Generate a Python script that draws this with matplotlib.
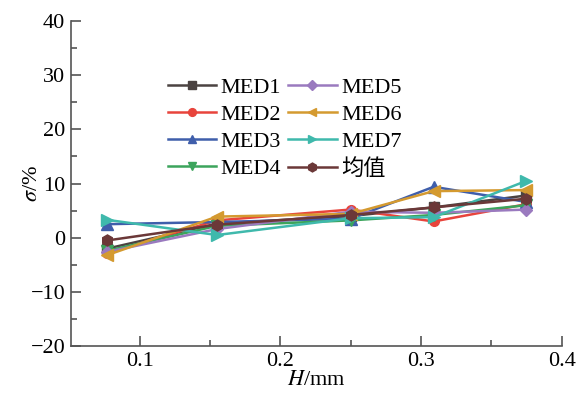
import numpy as np
from matplotlib import pyplot as plt
from matplotlib.ticker import MultipleLocator

plt.rcParams["font.family"] = ["Liberation Serif", "Noto Sans CJK SC"]
plt.rcParams["mathtext.fontset"] = "stix"

# data
h_mm = [0.077, 0.155, 0.25, 0.309, 0.375]
labels = ["MED1", "MED2", "MED3", "MED4", "MED5", "MED6", "MED7", "均值"]
med1 = [-2.0, 2.6, 4.0, 5.6, 7.8]
med2 = [-2.8, 3.2, 5.2, 3.0, 6.2]
med3 = [2.5, 2.9, 3.5, 9.4, 6.6]
med4 = [-2.4, 2.2, 3.2, 4.2, 6.0]
med5 = [-2.6, 1.6, 4.8, 4.6, 5.2]
med6 = [-3.2, 3.9, 4.4, 8.6, 8.8]
med7 = [3.3, 0.5, 3.6, 3.8, 10.5]
mean = [-0.5, 2.4, 4.2, 5.6, 7.2]

series = [med1, med2, med3, med4, med5, med6, med7, mean]
colors = ["#4b4341", "#e8443c", "#3f5eab", "#3ca45c", "#9a7abf", "#d49a30", "#3fb9ac", "#6b3838"]
markers = ["s", "o", "^", "v", "D", "<", ">", "h"]
msizes = [7, 7, 8, 8, 6, 8, 8, 8]

fig = plt.figure(figsize=(5.85, 3.96), dpi=100)
ax = fig.add_axes([0.121, 0.126, 0.839, 0.821])

for vals, lab, c, m, ms in zip(series, labels, colors, markers, msizes):
    ax.plot(h_mm, vals, color=c, marker=m, markersize=ms, linewidth=1.8, label=lab)

ax.set_xlim(0.051, 0.4)
ax.set_ylim(-20, 40)
ax.xaxis.set_major_locator(MultipleLocator(0.1))
ax.xaxis.set_minor_locator(MultipleLocator(0.05))
ax.yaxis.set_major_locator(MultipleLocator(10))
ax.yaxis.set_minor_locator(MultipleLocator(5))
ax.set_xticks([0.1, 0.2, 0.3, 0.4])
ax.set_xticklabels(["0.1", "0.2", "0.3", "0.4"])

for s in ["top", "right"]:
    ax.spines[s].set_visible(False)
for s in ["left", "bottom"]:
    ax.spines[s].set_color("#555555")
    ax.spines[s].set_linewidth(1.2)

ax.tick_params(which="major", direction="in", length=7, width=1.2, color="#555555",
               labelsize=16, pad=4)
ax.tick_params(which="minor", direction="in", length=4, width=1.2, color="#555555")

ax.set_xlabel("$H$/mm", fontsize=16, labelpad=0)
ax.set_ylabel("$\\sigma$/%", fontsize=16, labelpad=-8)

ax.legend(ncol=2, loc="upper left", bbox_to_anchor=(0.179, 0.855), frameon=False,
          fontsize=16, handlelength=2.2, handletextpad=0.2, columnspacing=0.3,
          labelspacing=0.3, borderaxespad=0, markerscale=0.8)

plt.savefig("out.png", dpi=100)
plt.close()
